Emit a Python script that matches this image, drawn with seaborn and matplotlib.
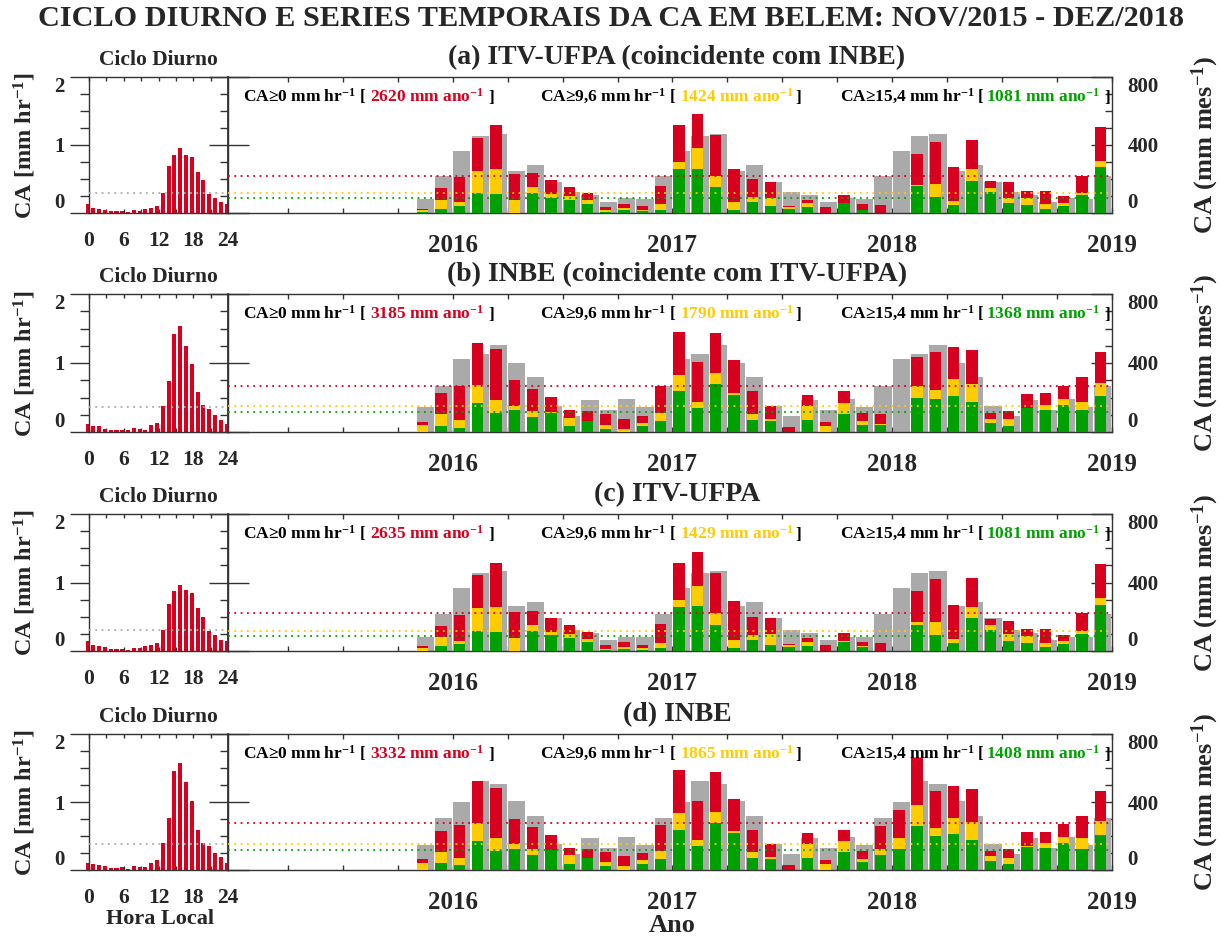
import numpy as np
import pandas as pd
import matplotlib
matplotlib.use('Agg')
import matplotlib.pyplot as plt
import seaborn as sns

# ---------------- data ----------------
hours = np.arange(0, 25)                 # 0..24 (24 repeats hour 0)
month_idx = np.arange(10, 48)            # months since Jan/2015: Nov/2015 .. Dec/2018
year_ticks = [12, 24, 36, 48]
year_labels = ['2016', '2017', '2018', '2019']
nan = np.nan

diurnal_a = [0.13, 0.08, 0.06, 0.05, 0.025, 0.03, 0.025, 0.015, 0.04, 0.035, 0.055, 0.075,
             0.11, 0.30, 0.69, 0.86, 0.96, 0.86, 0.83, 0.61, 0.49, 0.28, 0.22, 0.16]
diurnal_b = [0.12, 0.09, 0.08, 0.05, 0.035, 0.035, 0.03, 0.025, 0.06, 0.045, 0.025, 0.10,
             0.13, 0.38, 0.74, 1.42, 1.54, 1.24, 0.98, 0.58, 0.39, 0.34, 0.24, 0.18]
diurnal_c = [0.14, 0.09, 0.07, 0.065, 0.025, 0.035, 0.035, 0.02, 0.05, 0.045, 0.07, 0.085,
             0.12, 0.31, 0.69, 0.87, 0.97, 0.89, 0.85, 0.63, 0.50, 0.29, 0.23, 0.16]
diurnal_d = [0.11, 0.09, 0.08, 0.065, 0.035, 0.035, 0.04, 0.02, 0.065, 0.04, 0.04, 0.10,
             0.15, 0.39, 0.77, 1.45, 1.57, 1.30, 1.02, 0.59, 0.40, 0.35, 0.25, 0.19]

# monthly totals (CA>=0), CA>=9.6 and CA>=15.4  [mm/mes], Nov/2015..Dec/2018
tot_a = [25, 146, 211, 443, 515, 230, 234, 193, 152, 115, 37, 55, 39, 160,
         515, 580, 459, 258, 201, 180, 43, 78, 37, 107, 53, 45,
         nan, 347, 420, 269, 427, 187, 180, 129, 129, 98, 219, 507]
y96_a = [16, 78, 62, 248, 256, 78, 152, 113, 98, 76, 16, 27, 20, 51,
         299, 380, 220, 64, 94, 88, 33, 59, 0, 60, 20, 0,
         nan, 166, 168, 68, 260, 148, 90, 88, 53, 59, 117, 308]
y154_a = [3, 25, 39, 117, 113, 0, 117, 90, 76, 53, 8, 16, 10, 20,
          256, 261, 154, 20, 62, 39, 25, 33, 0, 57, 20, 0,
          nan, 156, 96, 49, 191, 123, 60, 45, 25, 43, 103, 269]
clim_a = [363, 453, 464, 250, 285, 185, 125, 107, 66, 86, 82, 215]   # Jan..Dec

tot_b = [59, 227, 265, 518, 480, 300, 249, 204, 127, 122, 106, 76, 94, 265,
         582, 406, 573, 418, 237, 151, 29, 214, 59, 235, 112, 102,
         nan, 435, 465, 494, 475, 108, 122, 222, 224, 265, 316, 465]
y96_b = [39, 102, 71, 273, 188, 153, 120, 114, 82, 65, 43, 20, 53, 108,
         331, 176, 341, 225, 106, 73, 0, 151, 33, 167, 63, 49,
         nan, 265, 243, 308, 278, 76, 73, 141, 155, 194, 175, 284]
y154_b = [0, 37, 25, 171, 112, 125, 88, 112, 33, 65, 20, 0, 33, 63,
          235, 137, 278, 216, 67, 63, 0, 69, 0, 102, 43, 39,
          nan, 198, 194, 210, 175, 53, 37, 137, 125, 157, 125, 210]
clim_b = [422, 450, 505, 402, 316, 151, 92, 184, 125, 194, 144, 265]

tot_c = [29, 146, 211, 443, 516, 230, 236, 191, 152, 113, 33, 53, 37, 158,
         516, 580, 457, 290, 200, 192, 43, 78, 35, 108, 51, 45,
         nan, 349, 418, 269, 427, 186, 178, 129, 129, 94, 220, 510]
y96_c = [16, 80, 61, 250, 256, 78, 150, 111, 98, 70, 14, 25, 18, 49,
         300, 380, 222, 65, 94, 100, 35, 55, 0, 58, 29, 0,
         nan, 167, 167, 69, 257, 151, 100, 88, 49, 57, 114, 308]
y154_c = [0, 29, 41, 119, 113, 0, 117, 92, 78, 53, 8, 14, 8, 18,
          255, 261, 153, 18, 63, 37, 24, 31, 0, 55, 24, 0,
          nan, 153, 94, 49, 192, 124, 61, 45, 25, 41, 100, 271]
clim_c = [365, 457, 467, 261, 286, 190, 124, 108, 65, 84, 82, 216]

tot_d = [63, 231, 263, 522, 484, 302, 253, 206, 131, 124, 108, 80, 98, 263,
         586, 408, 575, 418, 237, 151, 29, 216, 61, 235, 110, 257,
         355, 657, 465, 496, 475, 110, 124, 222, 225, 271, 318, 467]
y96_d = [41, 104, 73, 276, 190, 155, 122, 116, 86, 69, 47, 24, 57, 110,
         333, 178, 341, 227, 106, 76, 0, 153, 35, 169, 65, 124,
         190, 380, 245, 306, 280, 80, 73, 143, 157, 196, 188, 286]
y154_d = [0, 39, 27, 173, 112, 125, 90, 116, 33, 69, 22, 0, 35, 65,
          237, 139, 276, 218, 69, 67, 0, 71, 0, 104, 45, 88,
          122, 257, 198, 212, 178, 53, 37, 135, 127, 161, 125, 208]
clim_d = [400, 525, 506, 406, 320, 153, 92, 186, 131, 194, 147, 304]

annual_a = [2620, 1424, 1081]
annual_b = [3185, 1790, 1368]
annual_c = [2635, 1429, 1081]
annual_d = [3332, 1865, 1408]

titles = ['(a) ITV-UFPA (coincidente com INBE)', '(b) INBE (coincidente com ITV-UFPA)',
          '(c) ITV-UFPA', '(d) INBE']
main_title = 'CICLO DIURNO E SERIES TEMPORAIS DA CA EM BELEM: NOV/2015 - DEZ/2018'

# ---------------- style ----------------
sns.set_theme(style='white')
plt.rcParams['font.family'] = ['Liberation Serif', 'DejaVu Serif']
plt.rcParams['font.weight'] = 'bold'
plt.rcParams['mathtext.default'] = 'regular'

RED = '#d7001e'
YEL = '#ffcc00'
GRN = '#00a000'
GRY = '#aaaaaa'
SP = '#333333'

W, H = 1220, 940
fig = plt.figure(figsize=(W / 100, H / 100), dpi=100)
fig.patch.set_facecolor('white')


def add_ax(x0, y0, x1, y1):
    return fig.add_axes([x0 / W, 1 - y1 / H, (x1 - x0) / W, (y1 - y0) / H])


rows = [(77, 213), (294, 432), (514, 651), (734, 870)]
XL0, XL1, XR1 = 89, 228, 1112

panels = [
    (diurnal_a, tot_a, y96_a, y154_a, clim_a, annual_a),
    (diurnal_b, tot_b, y96_b, y154_b, clim_b, annual_b),
    (diurnal_c, tot_c, y96_c, y154_c, clim_c, annual_c),
    (diurnal_d, tot_d, y96_d, y154_d, clim_d, annual_d),
]

renderer = fig.canvas.get_renderer()


def rich_line(x_px, base_px, pieces, size):
    x = x_px
    for s, c, gap in pieces:
        t = fig.text(x / W, 1 - base_px / H, s, color=c, fontsize=size,
                     fontweight='bold', ha='left', va='baseline')
        bb = t.get_window_extent(renderer=renderer)
        x += bb.width + gap


def bars(ax, x, v, width, color, zorder, clip=True):
    df = pd.DataFrame({'x': x, 'v': v}).dropna()
    sns.barplot(data=df, x='x', y='v', native_scale=True, width=width, color=color,
                saturation=1, errorbar=None, ax=ax, orient='x', linewidth=0,
                edgecolor='none', zorder=zorder, clip_on=clip)


for r, ((top, bot), (diu, tot, y96, y154, clim, ann)) in enumerate(zip(rows, panels)):
    axl = add_ax(XL0, top, XL1, bot)
    axr = add_ax(XL1, top, XR1, bot)

    # ---- diurnal cycle ----
    bars(axl, hours - 0.25, list(diu) + [diu[0]], 0.7, RED, 2, clip=False)
    axl.axhline(ann[0] / 8760.0, color=GRY, ls=(0, (1, 2.5)), lw=1.3, zorder=5)
    axl.set_xlim(0, 24)
    axl.set_ylim(0, 2)
    axl.set_xlabel('')
    axl.set_ylabel('')
    axl.set_xticks([0, 6, 12, 18, 24], labels=['0', '6', '12', '18', '24'])
    axl.set_xticks(np.arange(0, 25, 3), minor=True)
    axl.tick_params(axis='x', which='both', direction='in', top=True, bottom=True,
                    length=3, width=1, color=SP, labelsize=15.5, pad=13)
    axl.set_yticks([0, 1, 2], labels=['0', '1', '2'])
    axl.set_yticks(np.arange(0, 2.01, 0.25), minor=True)
    axl.tick_params(axis='y', which='major', direction='out', left=True, right=False,
                    length=13.7, width=1, color=SP, labelsize=15, pad=4)
    axl.tick_params(axis='y', which='minor', direction='out', left=True, right=False,
                    length=6.5, width=1, color=SP)
    ylab = axl.get_yticklabels()
    ylab[0].set_va('bottom')
    ylab[-1].set_va('top')
    sec = axl.secondary_yaxis('right')
    sec.set_yticks([0, 1, 2], labels=['', '', ''])
    sec.set_yticks(np.arange(0, 2.01, 0.25), minor=True)
    sec.tick_params(which='major', direction='in', length=14, width=1, color=SP)
    sec.tick_params(which='minor', direction='in', length=6, width=1, color=SP)
    sec.spines['right'].set_color(SP)
    for s in axl.spines.values():
        s.set_color(SP)
        s.set_linewidth(1)

    # ---- monthly series ----
    grey = [clim[m % 12] for m in month_idx]
    bars(axr, month_idx + 0.5, grey, 0.94, GRY, 1)
    bars(axr, month_idx + 0.36, tot, 0.62, RED, 2)
    bars(axr, month_idx + 0.36, y96, 0.62, YEL, 3)
    bars(axr, month_idx + 0.36, y154, 0.62, GRN, 4)
    for val, col in zip(ann, [RED, YEL, GRN]):
        axr.axhline(val / 12.0, color=col, ls=(0, (1, 2.5)), lw=1.3, zorder=6)
    axr.set_xlim(-0.27, 48)
    axr.set_ylim(0, 800)
    axr.set_xlabel('')
    axr.set_ylabel('')
    axr.set_xticks(year_ticks, labels=year_labels)
    axr.set_xticks(np.arange(3, 48, 3), minor=True)
    axr.tick_params(axis='x', which='both', direction='in', top=True, bottom=True,
                    length=3.5, width=1, color=SP, labelsize=18, pad=15)
    axr.set_yticks([0, 400, 800], labels=['0', '400', '800'])
    axr.set_yticks(np.arange(0, 801, 100), minor=True)
    axr.tick_params(axis='y', which='major', direction='in', left=True, right=True,
                    labelleft=False, labelright=True, length=15, width=1, color=SP,
                    labelsize=15, pad=11)
    axr.tick_params(axis='y', which='minor', direction='in', left=False, right=True,
                    length=5, width=1, color=SP)
    rl = axr.get_yticklabels()
    rl[0].set_va('bottom')
    rl[-1].set_va('top')
    for s in axr.spines.values():
        s.set_color(SP)
        s.set_linewidth(1)

    # ---- texts ----
    fig.text(677 / W, 1 - (top - 19) / H, titles[r], ha='center', va='center', fontsize=20)
    fig.text(158 / W, 1 - (top - 17) / H, 'Ciclo Diurno', ha='center', va='center', fontsize=15.5)
    fig.text(25 / W, 1 - (top + bot) / 2 / H, 'CA [mm hr$^{-1}$]', rotation=90,
             ha='center', va='center', fontsize=17.5)
    fig.text(1205 / W, 1 - (top + bot) / 2 / H, 'CA (mm mes$^{-1}$)', rotation=90,
             ha='center', va='center', fontsize=19)
    base = top + 25
    rich_line(243, base, [('CA≥0 mm hr$^{-1}$ [', 'black', 4),
                          (f'{ann[0]} mm ano$^{{-1}}$', RED, 4),
                          (']', 'black', 0)], 12.5)
    rich_line(540, base, [('CA≥9,6 mm hr$^{-1}$ [', 'black', 4),
                          (f'{ann[1]} mm ano$^{{-1}}$', YEL, 1),
                          (']', 'black', 0)], 12.5)
    rich_line(840, base, [('CA≥15,4 mm hr$^{-1}$ [', 'black', 1),
                          (f'{ann[2]} mm ano$^{{-1}}$', GRN, 4),
                          (']', 'black', 0)], 12.5)

fig.text(611 / W, 1 - 18 / H, main_title, ha='center', va='center', fontsize=21.8)
fig.text(160 / W, 1 - 919 / H, 'Hora Local', ha='center', va='center', fontsize=16)
fig.text(672 / W, 1 - 926 / H, 'Ano', ha='center', va='center', fontsize=19)

fig.savefig('out.png', dpi=100, facecolor='white')
